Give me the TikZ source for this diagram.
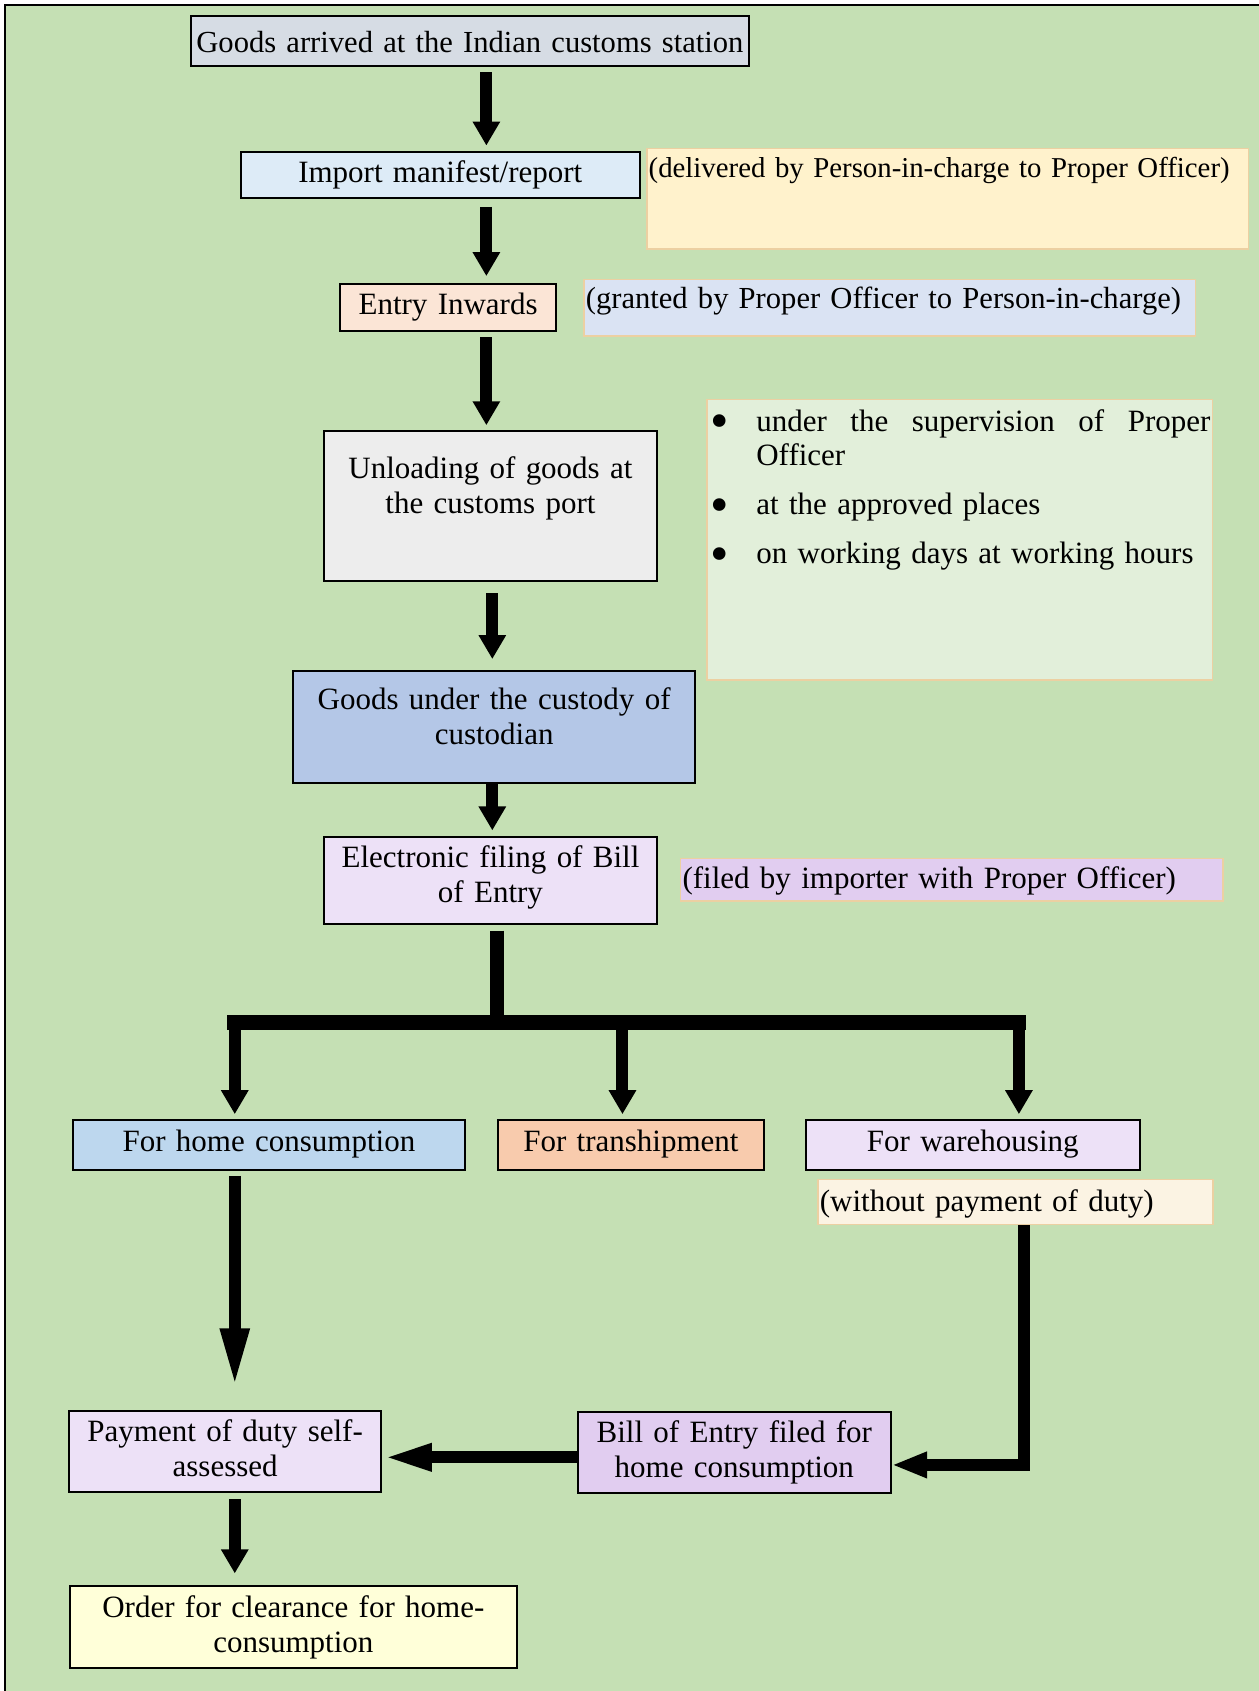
\documentclass[tikz,border=0pt]{standalone}
\usepackage{fontspec}
\setmainfont{Liberation Serif}
\usepackage{tikz}
\usetikzlibrary{arrows.meta,positioning}
\definecolor{framegreen}{RGB}{197,224,180}
\definecolor{arrivedgray}{RGB}{214,220,228}
\definecolor{manifestblue}{RGB}{221,235,247}
\definecolor{inwardspeach}{RGB}{251,229,214}
\definecolor{unloadgray}{RGB}{237,237,237}
\definecolor{custodyblue}{RGB}{180,199,231}
\definecolor{lilaclight}{RGB}{237,225,247}
\definecolor{lilacdark}{RGB}{225,205,240}
\definecolor{homeblue}{RGB}{189,215,238}
\definecolor{tranorange}{RGB}{248,203,173}
\definecolor{clearyellow}{RGB}{255,255,217}
\definecolor{noteyellow}{RGB}{255,242,204}
\definecolor{noteblue}{RGB}{218,227,243}
\definecolor{notegreen}{RGB}{226,239,218}
\definecolor{notecream}{RGB}{251,243,227}
\definecolor{notetan}{RGB}{236,208,162}
\hyphenpenalty=10000
\newcommand{\mainfs}{\fontsize{15.5}{17.3}\selectfont}
\newcommand{\smallfs}{\fontsize{15.3}{17.3}\selectfont}
\newcommand{\notefs}{\fontsize{14.4}{17.3}\selectfont}
\newcommand{\itemdot}{\makebox[23.6pt][l]{\hspace*{0.5pt}\raisebox{-3.6pt}{\scalebox{1.7}{\textbullet}}}}
\tikzset{
  flowbox/.style={rectangle,draw=black,line width=1pt,inner sep=0pt,align=center,font=\mainfs,anchor=base},
  notebox/.style={rectangle,draw=notetan,line width=0.8pt,inner xsep=1pt,inner ysep=0pt,align=left,font=\mainfs,anchor=base west},
  arr/.style={-{Triangle[length=12pt,width=13pt]},line width=6pt},
  longarr/.style={-{Triangle[length=29.5pt,width=13.3pt]},line width=6pt},
  sidearr/.style={-{Triangle[length=24.8pt,width=12.3pt]},line width=6pt},
  backarr/.style={-{Triangle[length=17.7pt,width=12.1pt]},line width=6pt,line join=miter},
  barline/.style={line width=7.3pt,line cap=rect}
}

\begin{document}
\begin{tikzpicture}[x=0.5394pt,y=-0.5394pt]
  \useasboundingbox (0,0) rectangle (1167,1568);
  %% Frame
  \fill[framegreen] (5,5) rectangle (1172,1573);
  \draw[line width=0.9pt] (5,1573) -- (5,5) -- (1172,5);

  %% Main column
  \node[flowbox,fill=arrivedgray,font=\smallfs,text width=279pt,text height=18.6pt,text depth=6.5pt] (arrived) at (435.75,49)
    {\mbox{Goods arrived at the Indian customs station}};
  \node[flowbox,fill=manifestblue,text width=199.5pt,text height=15.3pt,text depth=8pt] (manifest) at (408.25,168.9)
    {Import manifest/report};
  \node[flowbox,fill=inwardspeach,text width=108.4pt,text height=15.4pt,text depth=8.1pt] (inwards) at (415.5,291.8)
    {Entry Inwards};
  \node[flowbox,fill=unloadgray,text width=167pt,text height=23.8pt,text depth=51.2pt] (unloading) at (454.8,444)
    {Unloading of goods at\\the customs port};
  \node[flowbox,fill=custodyblue,text width=200.9pt,text height=19.5pt,text depth=36.8pt] (custody) at (458.2,658.2)
    {Goods under the custody of\\custodian};
  \node[flowbox,fill=lilaclight,text width=167pt,text height=15.4pt,text depth=28.3pt] (filing) at (454.8,804.5)
    {Electronic filing of Bill\\of Entry};

  %% Notes
  \node[notebox,fill=noteyellow,font=\notefs,text width=299pt,text height=14.8pt,text depth=35.5pt,
        right=2.6pt of manifest.base east,anchor=base west,yshift=2.1pt] (delivered)
    {(delivered by Person-in-charge to Proper Officer)};
  \node[notebox,fill=noteblue,font=\smallfs,text width=304pt,text height=14.5pt,text depth=13.8pt,
        right=12.8pt of inwards.base east,anchor=base west,yshift=3.2pt] (granted)
    {\mbox{(granted by Proper Officer to Person-in-charge)}};
  \node[notebox,fill=notegreen,text width=250.7pt,text height=16pt,text depth=124.2pt] (conditions) at (655,400)
    {\itemdot under\hfill the\hfill supervision\hfill of\hfill Proper\\
     \hspace*{23.6pt}Officer\\[7.2pt]
     \itemdot at the approved places\\[7.2pt]
     \itemdot on working days at working hours};
  \node[notebox,fill=lilacdark,text width=269.2pt,text height=15.3pt,text depth=6.1pt] (filedby) at (630.3,824.3)
    {(filed by importer with Proper Officer)};

  %% Branches
  \node[flowbox,fill=homeblue,text width=196pt,text height=16pt,text depth=9pt] (home) at (249.4,1067.8)
    {For home consumption};
  \node[flowbox,fill=tranorange,text width=133.3pt,text height=16pt,text depth=9pt] (tranship) at (585,1067.8)
    {For transhipment};
  \node[flowbox,fill=lilaclight,text width=167pt,text height=16pt,text depth=9pt] (warehouse) at (902,1067.8)
    {For warehousing};
  \node[notebox,fill=notecream,text width=195.5pt,text height=16pt,text depth=6.5pt] (duty) at (757.6,1123.3)
    {(without payment of duty)};

  %% Clearance
  \node[flowbox,fill=lilaclight,text width=156.2pt,text height=15.4pt,text depth=25.4pt] (payment) at (208.8,1336.6)
    {Payment of duty self-\\assessed};
  \node[flowbox,fill=lilacdark,text width=156.5pt,text height=15.4pt,text depth=25.4pt] (billhome) at (680.9,1337.6)
    {Bill of Entry filed for\\home consumption};
  \node[flowbox,fill=clearyellow,text width=223.6pt,text height=15.7pt,text depth=25.1pt] (clearance) at (272,1500.1)
    {Order for clearance for home-\\consumption};

  %% Connectors
  \coordinate (colA) at (451,0);
  \coordinate (colB) at (456.5,0);
  \coordinate (colC) at (460.7,0);
  \coordinate (dh) at (217.7,948);
  \coordinate (dt) at (577.2,948);
  \coordinate (dw) at (944.8,948);
  \coordinate (wr) at (949.7,0);
  \coordinate (sidey) at ([yshift=-2.4pt]billhome.west);

  \draw[arr,shorten <=2.6pt,shorten >=2.5pt] (arrived.south -| colA) -- (manifest.north -| colA);
  \draw[arr,shorten <=3.9pt,shorten >=3.4pt] (manifest.south -| colA) -- (inwards.north -| colA);
  \draw[arr,shorten <=2.8pt,shorten >=2.5pt] (inwards.south -| colA) -- (unloading.north -| colA);
  \draw[arr,shorten <=5.5pt,shorten >=5.4pt] (unloading.south -| colB) -- (custody.north -| colB);
  \draw[arr,shorten >=2.7pt] (custody.south -| colB) -- (filing.north -| colB);
  \draw[barline,line cap=butt,shorten <=2.7pt] (filing.south -| colC) -- (colC |- dh);
  \draw[barline] (dh) -- (dw);
  \draw[arr,shorten >=2.2pt] (dh) -- (dh |- home.north);
  \draw[arr,shorten >=2.2pt] (dt) -- (dt |- tranship.north);
  \draw[arr,shorten >=2.2pt] (dw) -- (dw |- warehouse.north);
  \draw[longarr,shorten <=2.7pt,shorten >=11.2pt] (home.south -| dh) -- (payment.north -| dh);
  \draw[arr,shorten <=3.1pt,shorten >=6pt] (payment.south -| dh) -- (clearance.north -| dh);
  \draw[sidearr] (sidey) -- (sidey -| payment.east);
  \draw[backarr] (duty.south -| wr) |- ([yshift=-6.2pt]billhome.east);
\end{tikzpicture}
\end{document}
